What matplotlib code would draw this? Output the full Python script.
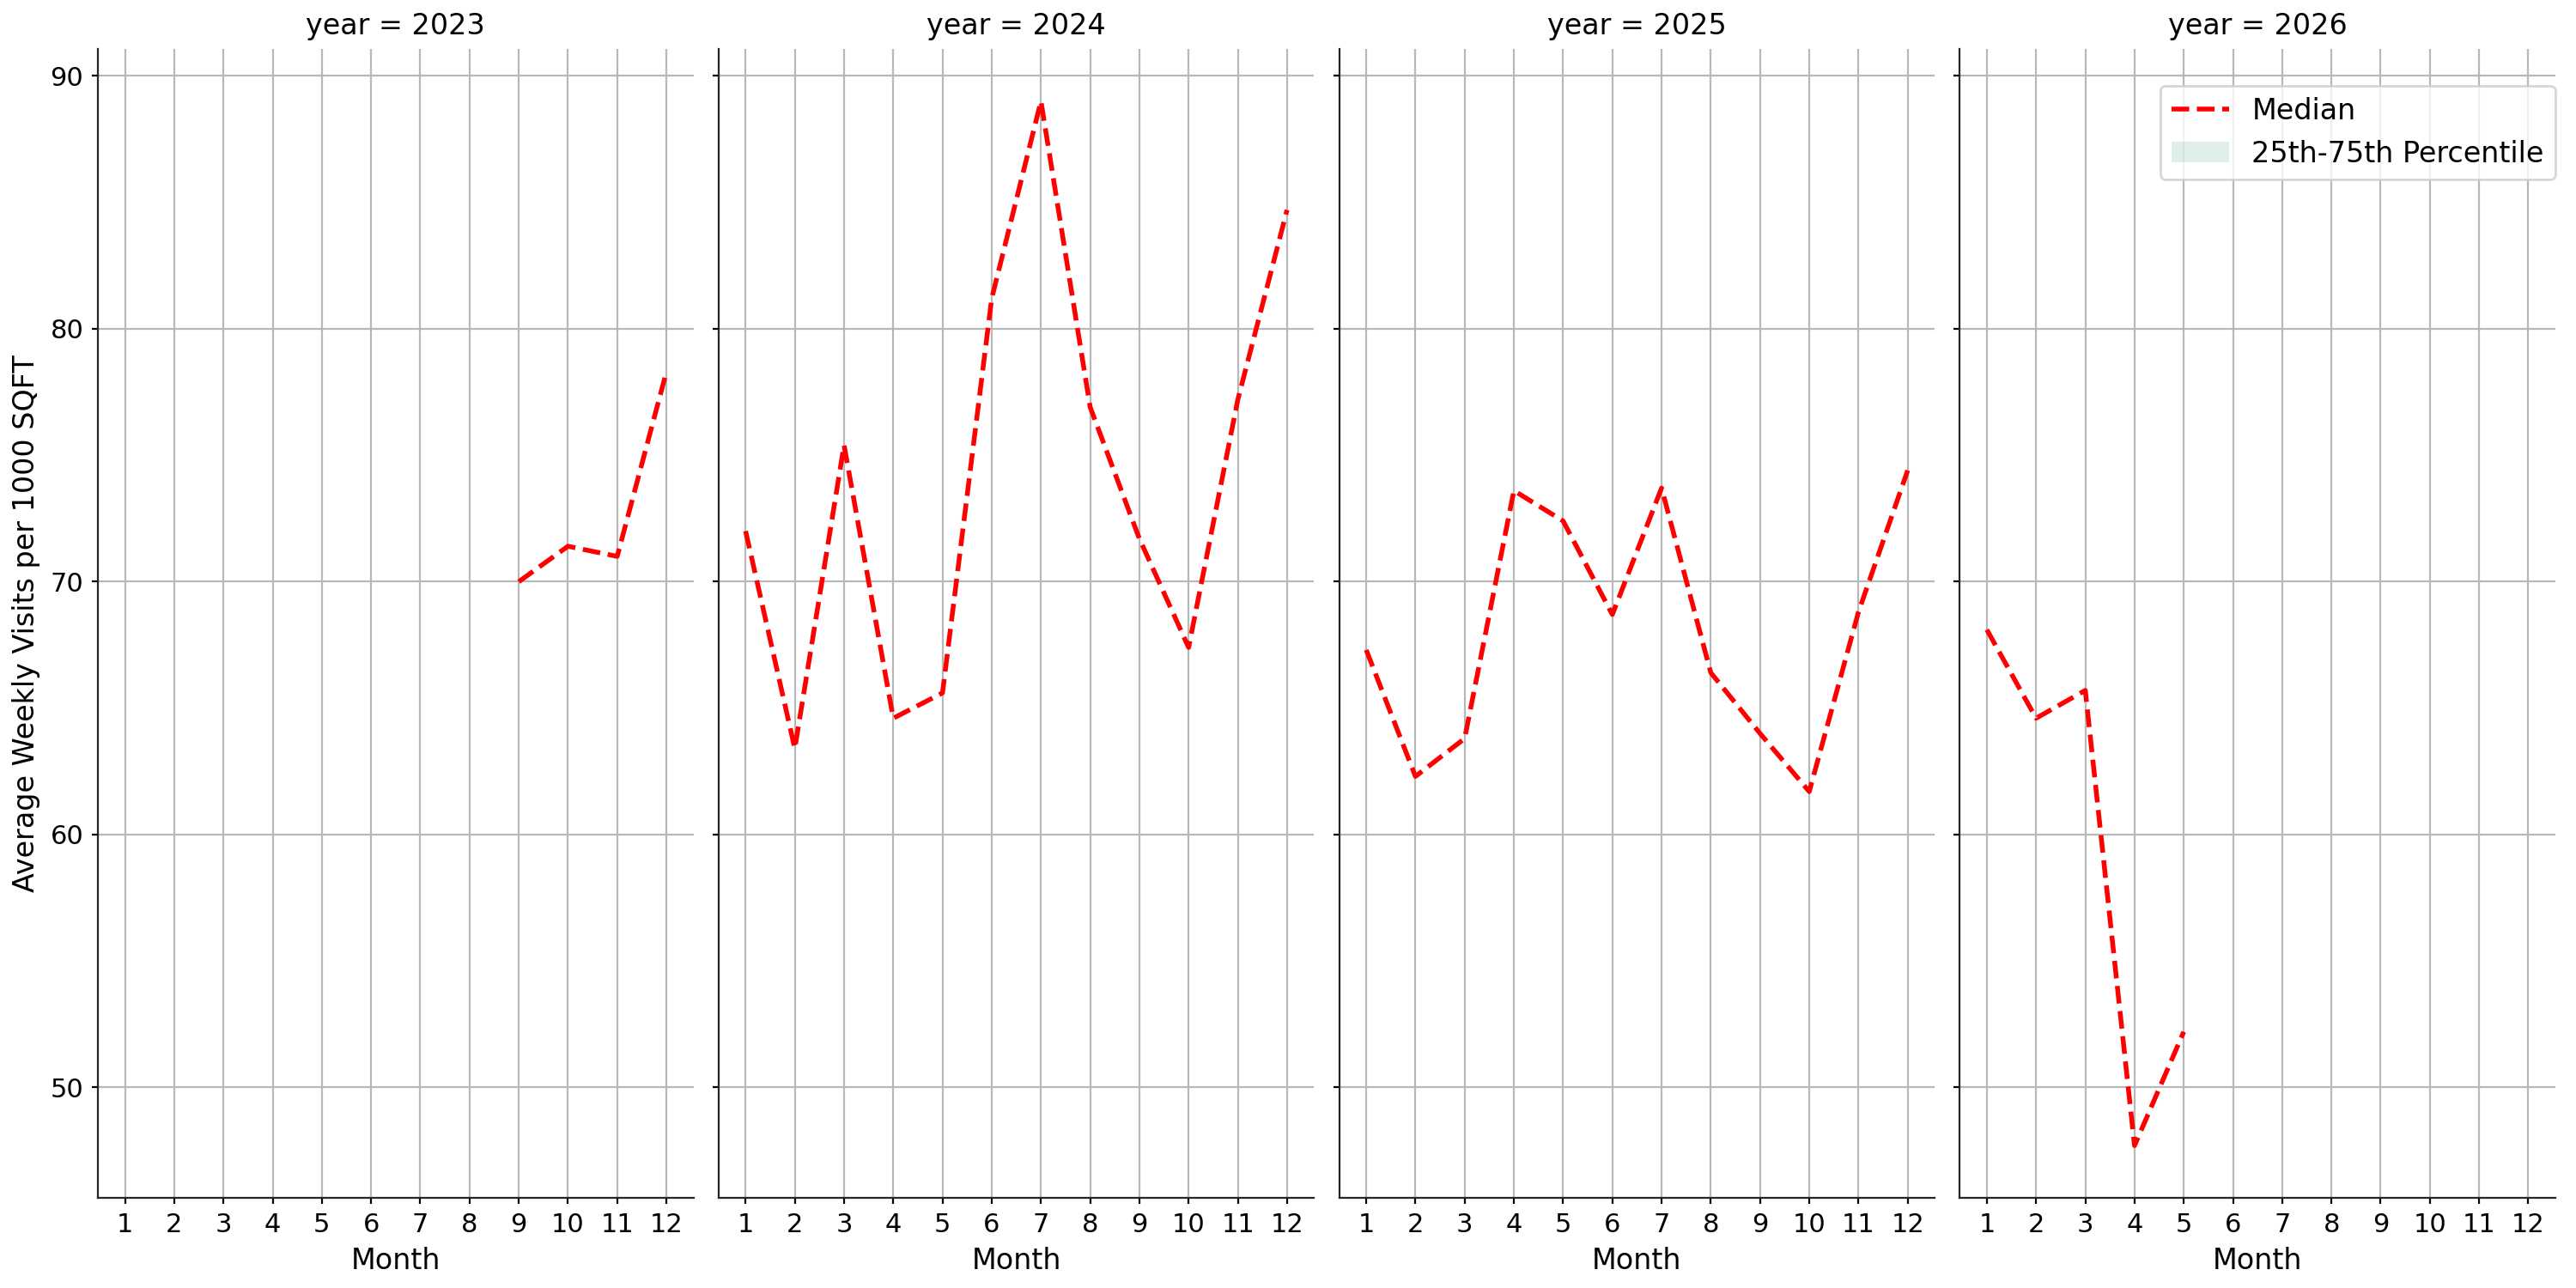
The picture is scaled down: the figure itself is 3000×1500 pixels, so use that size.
#!/usr/bin/env python3
"""Monthly median visits per 1000 sqft, one panel per year."""

import matplotlib

matplotlib.use("Agg")
import matplotlib.pyplot as plt
from matplotlib.lines import Line2D
from matplotlib.patches import Patch

YEARS = [2023, 2024, 2025, 2026]
MONTH_TICKS = list(range(1, 13))

months_2023 = [9, 10, 11, 12]
median_2023 = [70.0, 71.4, 71.0, 78.3]

months_2024 = [1, 2, 3, 4, 5, 6, 7, 8, 9, 10, 11, 12]
median_2024 = [72.0, 63.4, 75.4, 64.6, 65.6, 81.2, 89.0, 76.9, 71.7, 67.4, 77.2, 84.7]

months_2025 = [1, 2, 3, 4, 5, 6, 7, 8, 9, 10, 11, 12]
median_2025 = [67.3, 62.3, 63.8, 73.6, 72.4, 68.7, 73.7, 66.4, 64.0, 61.7, 68.8, 74.4]

months_2026 = [1, 2, 3, 4, 5]
median_2026 = [68.1, 64.6, 65.7, 47.7, 52.2]

SERIES = {
    2023: (months_2023, median_2023),
    2024: (months_2024, median_2024),
    2025: (months_2025, median_2025),
    2026: (months_2026, median_2026),
}

plt.rcParams.update({
    "font.size": 12,
    "axes.titlesize": 12,
    "axes.labelsize": 12,
    "xtick.labelsize": 11,
    "ytick.labelsize": 11,
    "legend.fontsize": 12,
    "axes.edgecolor": "#262626",
    "axes.linewidth": 0.8,
    "grid.color": "#b8b8b8",
    "grid.linewidth": 0.8,
    "xtick.major.size": 2.5,
    "ytick.major.size": 2.5,
})

fig, axes = plt.subplots(1, 4, figsize=(15, 7.5), dpi=200, sharex=True, sharey=True)

for ax, year in zip(axes, YEARS):
    months, median = SERIES[year]
    ax.plot(months, median, color="red", linestyle="--", linewidth=2)
    ax.set_title(f"year = {year}")
    ax.set_xlabel("Month")
    ax.set_xticks(MONTH_TICKS)
    ax.grid(True)
    ax.spines["top"].set_visible(False)
    ax.spines["right"].set_visible(False)

axes[0].set_ylabel("Average Weekly Visits per 1000 SQFT")
axes[0].set_yticks([50, 60, 70, 80, 90])

handles = [
    Line2D([0], [0], color="red", linestyle="--", linewidth=2, label="Median"),
    Patch(facecolor="#69b3a2", alpha=0.2, label="25th-75th Percentile"),
]
axes[-1].legend(handles=handles, loc="upper right", bbox_to_anchor=(1.0, 0.968),
                borderaxespad=0)

fig.subplots_adjust(left=0.038, right=0.992, bottom=0.07, top=0.962, wspace=0.042)
fig.savefig("out.png", dpi=200)
